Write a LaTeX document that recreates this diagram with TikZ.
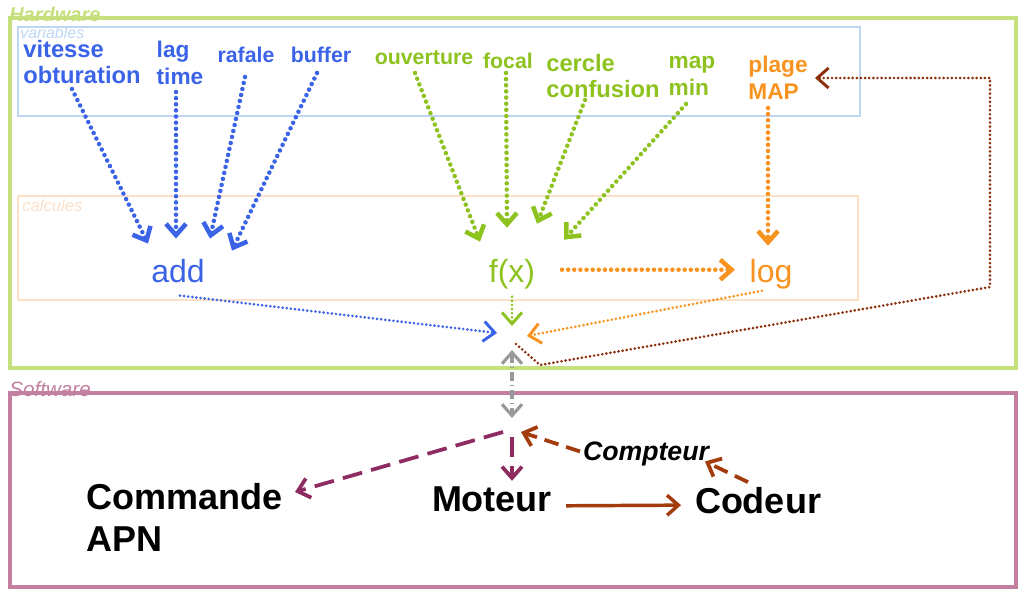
\documentclass[tikz,border=0pt]{standalone}
\usepackage{fontspec}
\setmainfont{Liberation Sans}
\usetikzlibrary{arrows.meta,calc}
\definecolor{hwgreen}{HTML}{C6E07E}
\definecolor{varblue}{HTML}{BDD7F5}
\definecolor{calcor}{HTML}{FCE0C8}
\definecolor{swpink}{HTML}{C27FA0}
\definecolor{cblue}{HTML}{3B63E8}
\definecolor{cgreen}{HTML}{8DC21F}
\definecolor{corange}{HTML}{F7931E}
\definecolor{cbrown}{HTML}{8B2F0C}
\definecolor{cgray}{HTML}{9A9A9A}
\definecolor{cpurple}{HTML}{8E2C62}
\definecolor{crust}{HTML}{A23C0C}
\tikzset{
  lbl/.style={inner sep=0pt, font=\fontsize{16}{19.5}\selectfont\bfseries, align=left},
  lblbig/.style={inner sep=0pt, font=\fontsize{17.8}{20.2}\selectfont\bfseries, align=left},
  lblmid/.style={inner sep=0pt, font=\fontsize{17}{20}\selectfont\bfseries, align=left},
  calc/.style={inner sep=0pt, font=\fontsize{24}{28}\selectfont, anchor=base},
  blk/.style={inner sep=0pt, font=\fontsize{27}{31.5}\selectfont\bfseries, text=black},
  barb/.style={-{Straight Barb[length=8.5pt,width=15pt]}},
  dotbig/.style={barb, line width=3.4pt, line cap=round, dash pattern=on 0pt off 4.6pt},
  dotthin/.style={barb, line width=2.2pt, line cap=round, dash pattern=on 0pt off 3.1pt},
}
\begin{document}
\begin{tikzpicture}[x=0.75pt,y=-0.75pt]
\useasboundingbox (0,0) rectangle (1024,592);
% section labels
\node[inner sep=0pt, anchor=base west, text=hwgreen, font=\fontsize{15}{18}\selectfont\bfseries\itshape] (hwl) at (9,22) {Hardware};
\node[inner sep=0pt, anchor=base west, text=swpink, font=\fontsize{15.5}{18}\selectfont\itshape] (swl) at (9,396) {Software};
\node[inner sep=0pt, anchor=base west, text=varblue, font=\fontsize{12}{14}\selectfont\itshape] (varl) at (20,39) {variables};
\node[inner sep=0pt, anchor=base west, text=calcor, font=\fontsize{12.5}{14}\selectfont\itshape] (call) at (22,211) {calcules};
% frames
\draw[hwgreen, line width=3pt] (10,18) rectangle (1016,368);
\draw[swpink, line width=2.3pt] (10,393) rectangle (1016,587);
\draw[varblue, line width=1.1pt] (18,27) rectangle (860,116);
\draw[calcor, line width=1.1pt] (18,196) rectangle (858,300);
% variable labels
\node[lblbig, text=cblue] (vo) at (82,62) {vitesse\\obturation};
\node[lblmid, text=cblue] (lag) at (180,63) {lag\\time};
\node[lbl, text=cblue] (raf) at (246,55) {rafale};
\node[lbl, text=cblue] (buf) at (321,55) {buffer};
\node[lbl, text=cgreen] (ouv) at (424,58) {ouverture};
\node[lbl, text=cgreen] (foc) at (508,61) {focal};
\node[lblbig, text=cgreen] (cc) at (603,76) {cercle\\confusion};
\node[lblmid, text=cgreen] (mm) at (692,76) {map\\min};
\node[lblmid, text=corange] (pm) at (778,78) {plage\\MAP};
% calcul nodes
\node[calc, text=cblue] (add) at (178,282) {add};
\node[calc, text=cgreen] (fx) at (512,282) {f(x)};
\node[calc, text=corange] (log) at (771,282) {log};
\coordinate (hub1) at (512,335);
\coordinate (hub2) at (512,432);
% software nodes
\node[blk, align=left] (cmd) at (185,517) {Commande\\APN};
\node[blk, anchor=base] (mot) at (492,511) {Moteur};
\node[blk, anchor=base] (cod) at (758,513) {Codeur};
\node[inner sep=0pt, anchor=base, font=\fontsize{20}{24}\selectfont\bfseries\itshape] (comp) at (646,460) {Compteur};
% blue arrows
\draw[dotbig, cblue] ($(vo)+(-10,27)$) -- ($(add)+(-30,-27)$);
\draw[dotbig, cblue] ($(lag)+(-4,29)$) -- ($(add)+(-2,-32)$);
\draw[dotbig, cblue] ($(raf)+(-1,22)$) -- ($(add)+(32,-32)$);
\draw[dotbig, cblue] ($(buf)+(-4,18)$) -- ($(add)+(54,-20)$);
\draw[dotthin, cblue] ($(add)+(2,25)$) -- ($(hub1)+(-15,-2)$);
% green arrows
\draw[dotbig, cgreen] ($(ouv)+(-9,15)$) -- ($(fx)+(-32,-32)$);
\draw[dotbig, cgreen] ($(foc)+(-2,12)$) -- ($(fx)+(-5,-46)$);
\draw[dotbig, cgreen] ($(cc)+(-18,24)$) -- ($(fx)+(25,-50)$);
\draw[dotbig, cgreen] ($(mm)+(-6,28)$) -- ($(fx)+(52,-34)$);
\draw[dotthin, cgreen] ($(fx)+(0,23)$) -- ($(hub1)+(0,-9)$);
% orange arrows
\draw[dotbig, corange] ($(pm)+(-10,30)$) -- ($(log)+(-3,-28)$);
\draw[dotbig, corange] ($(fx)+(50,-4)$) -- ($(log)+(-36,-4)$);
\draw[dotthin, corange] ($(log)+(-9,17)$) -- ($(hub1)+(15,1)$);
% brown feedback
\draw[dotthin, cbrown] ($(hub1)+(4,9)$) -- ++(24,21) -- (990,287) |- ($(pm)+(37,0)$);
% gray link
\draw[cgray, line width=2.4pt, dash pattern=on 7pt off 3pt on 0.5pt off 3pt,
  {Straight Barb[length=8.5pt,width=15pt]}-{Straight Barb[length=8.5pt,width=15pt]}]
  ($(hub1)+(0,15)$) -- ($(hub2)+(0,-14)$);
% purple dashed
\draw[barb, cpurple, line width=2.8pt, dash pattern=on 15pt off 7pt] ($(hub2)+(-9,0)$) -- ($(cmd)+(110,-25)$);
\draw[barb, cpurple, line width=2.8pt, dash pattern=on 15pt off 7pt] ($(hub2)+(0,5)$) -- ($(mot)+(20,-18)$);
% rust arrows
\draw[barb, crust, line width=2.6pt] ($(mot)+(74,7)$) -- ($(cod)+(-77,5)$);
\draw[barb, crust, line width=2.8pt, dash pattern=on 11pt off 6pt] ($(cod)+(-10,-18)$) -- ($(comp)+(59,8)$);
\draw[barb, crust, line width=2.8pt, dash pattern=on 11pt off 6pt] ($(comp)+(-66,-2)$) -- ($(hub2)+(9,0)$);
\end{tikzpicture}
\end{document}
